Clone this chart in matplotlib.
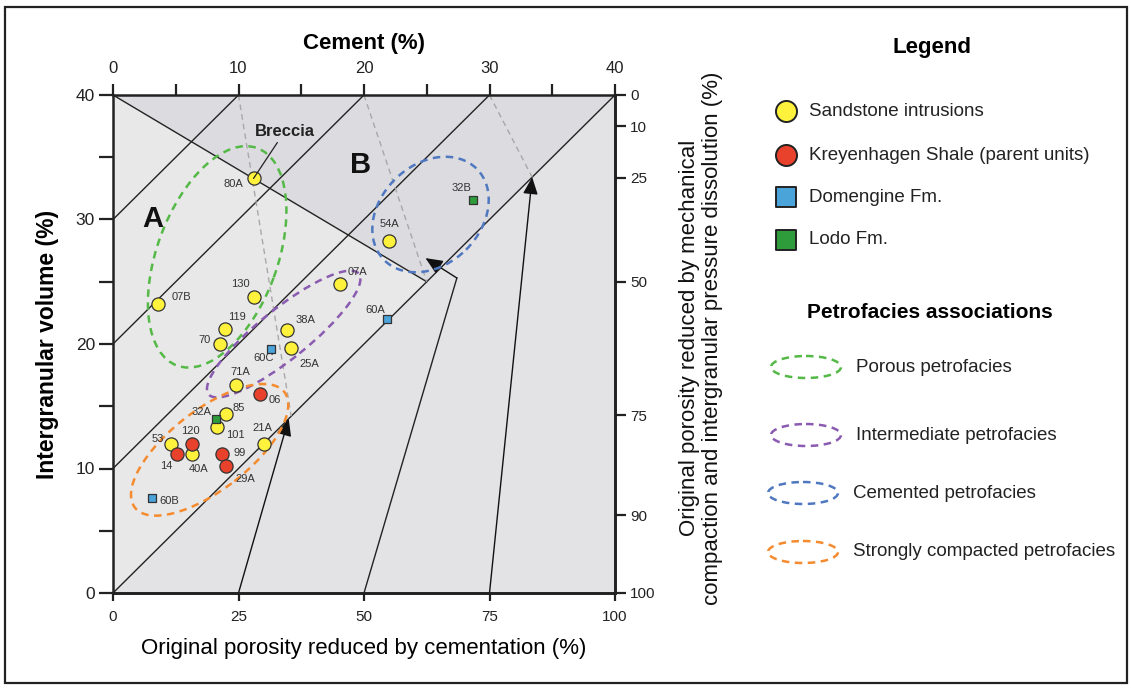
import numpy as np
import matplotlib
matplotlib.use('Agg')
import matplotlib.pyplot as plt
from matplotlib.patches import Ellipse, Polygon, Rectangle

plt.rcParams['font.family'] = ['Liberation Sans', 'DejaVu Sans']

# ---- sample data (cement %, intergranular volume %) ----
sand_names = ['80A', '54A', '07A', '130', '07B', '119', '38A', '70', '25A',
              '71A', '85', '101', '53', '40A', '21A']
sand_cement = [11.2, 22.0, 18.1, 11.2, 3.6, 8.9, 13.9, 8.5, 14.2, 9.8, 9.0, 8.3, 4.6, 6.3, 12.0]
sand_igv = [33.3, 28.3, 24.8, 23.8, 23.2, 21.2, 21.1, 20.0, 19.7, 16.7, 14.4, 13.3, 12.0, 11.2, 12.0]

shale_names = ['06', '120', '14', '99', '29A']
shale_cement = [11.7, 6.3, 5.1, 8.7, 9.0]
shale_igv = [16.0, 12.0, 11.2, 11.2, 10.2]

domengine_names = ['60A', '60C', '60B']
domengine_cement = [21.8, 12.6, 3.1]
domengine_igv = [22.0, 19.6, 7.6]

lodo_names = ['32A', '32B']
lodo_cement = [8.2, 28.7]
lodo_igv = [14.0, 31.6]

# petrofacies fields: centre cement, centre igv, width, height, angle
porous_field = (8.3, 27.0, 18.6, 9.6, 70)
intermediate_field = (13.6, 20.8, 15.4, 4.0, 39)
cemented_field = (25.3, 30.4, 10.4, 8.0, 45)
compacted_field = (7.7, 11.5, 15.1, 6.4, 38)

# reference grid of the diagram
orig_porosity = 40
porosity_lines = [30, 20, 10, 0]          # IGV - cement
arrow_start = [10, 20, 30]                # cement at IGV = 0
arrow_bend = [None, (27.4, 25.3), None]
arrow_tip = [(14.0, 14.0), (24.9, 26.9), (33.4, 33.4)]
dash_start = [10, 20, 30]                 # cement at IGV = 40
dash_end = [(14.2, 14.2), (25.0, 25.0), (33.4, 33.4)]

# label offsets in pixels (x right, y up)
label_off = {
    '80A': (-20, -6), '54A': (0, 17), '07A': (17, 12), '130': (-13, 13), '07B': (23, 7),
    '119': (12, 12), '38A': (18, 10), '70': (-15, 4), '25A': (18, -16), '71A': (4, 13),
    '85': (13, 6), '101': (18, -8), '53': (-13, 5), '40A': (6, -15), '21A': (-1, 16),
    '06': (15, -6), '120': (-2, 13), '14': (-11, -12), '99': (17, 1), '29A': (19, -13),
    '60A': (-11, 9), '60C': (-8, -9), '60B': (17, -3), '32A': (-14, 7), '32B': (-12, 12),
}


def igv_to_pct(igv):
    igv = np.asarray(igv, dtype=float)
    copl = orig_porosity - (100 - orig_porosity) * igv / (100 - igv)
    return copl / orig_porosity * 100


def pct_to_igv(pct):
    copl = np.asarray(pct, dtype=float) * orig_porosity / 100
    return 100 * (orig_porosity - copl) / (100 - copl)


W, H = 1131, 688
fig = plt.figure(figsize=(W / 100, H / 100), dpi=100)
fig.patch.set_facecolor('white')

# pixel-space layer for frame and legend
lax = fig.add_axes([0, 0, 1, 1], zorder=-1)
lax.set_xlim(0, W)
lax.set_ylim(H, 0)
lax.axis('off')
lax.add_patch(Rectangle((5, 7), 1122, 676, fill=False, lw=1.6, ec='#222222'))

ax = fig.add_axes([113 / W, 95 / H, 502 / W, 498 / H])
ax.set_xlim(0, 40)
ax.set_ylim(0, 40)
ax.patch.set_visible(False)

# compaction = cementation line (IGV = OP - (100 - OP)/100 * cement)
c_eq = np.array([0, 25])
igv_eq = orig_porosity - (100 - orig_porosity) / 100 * c_eq

# shaded fields
ax.add_patch(Polygon([(0, 0), (40, 0), (40, 40)], closed=True, fc='#e3e3e6', ec='none', zorder=0))
ax.add_patch(Polygon([(0, 0), (0, 40), (c_eq[1], igv_eq[1])], closed=True, fc='#e8e8e8',
                     ec='none', zorder=0))
ax.add_patch(Polygon([(0, 40), (40, 40), (c_eq[1], igv_eq[1])], closed=True, fc='#dcdce0',
                     ec='none', zorder=0))

# constant porosity lines
for p in porosity_lines:
    c = np.array([0, 40 - p])
    ax.plot(c, c + p, color='#222222', lw=1.0, zorder=1)

ax.plot(c_eq, igv_eq, color='#222222', lw=1.0, zorder=1)

# grey dashed lines
for c0, end in zip(dash_start, dash_end):
    ax.plot([c0, end[0]], [40, end[1]], color='#a8a8a8', lw=1.0,
            linestyle=(0, (4, 3)), zorder=1)

# arrows from the bottom axis
for c0, bend, tip in zip(arrow_start, arrow_bend, arrow_tip):
    start = (c0, 0)
    if bend is not None:
        ax.plot([c0, bend[0]], [0, bend[1]], color='#222222', lw=1.0, zorder=2)
        start = bend
    ax.annotate('', xy=tip, xytext=start,
                arrowprops=dict(arrowstyle='-|>,head_length=0.8,head_width=0.35',
                                color='#111111', lw=1.0, shrinkA=0, shrinkB=0,
                                mutation_scale=13), zorder=2)

# petrofacies fields
fields = [(porous_field, '#55b947'), (intermediate_field, '#8a5bb0'),
          (cemented_field, '#4f78c0'), (compacted_field, '#f58b2e')]
for (cx, cy, w, h, ang), col in fields:
    ax.add_patch(Ellipse((cx, cy), w, h, angle=ang, fill=False, ec=col, lw=1.8,
                         linestyle=(0, (3, 2.2)), zorder=3))

# samples
groups = [
    (sand_names, sand_cement, sand_igv, 'o', '#fff23c', 90),
    (shale_names, shale_cement, shale_igv, 'o', '#e8422d', 90),
    (domengine_names, domengine_cement, domengine_igv, 's', '#4aa3d9', 32),
    (lodo_names, lodo_cement, lodo_igv, 's', '#2f9c3c', 32),
]
for names, cem, igv, mk, col, sz in groups:
    ax.scatter(cem, igv, marker=mk, s=sz, c=col, edgecolors='#333333', linewidths=0.9, zorder=4)
    for n, x, y in zip(names, cem, igv):
        ax.annotate(n, (x, y), xytext=label_off[n], textcoords='offset pixels',
                    ha='center', va='center', fontsize=8, color='#333333', zorder=5)

ax.annotate('Breccia', xy=(sand_cement[0], sand_igv[0]), xytext=(13.7, 37.1),
            ha='center', va='center', fontsize=12, fontweight='bold', color='#222222',
            arrowprops=dict(arrowstyle='-', lw=0.9, color='#222222', shrinkA=1, shrinkB=0),
            zorder=5)
ax.text(3.2, 30.0, 'A', fontsize=21, fontweight='bold', ha='center', va='center', color='#111111')
ax.text(19.7, 34.4, 'B', fontsize=21, fontweight='bold', ha='center', va='center', color='#111111')

# axes: top = cement, left = IGV
for s in ax.spines.values():
    s.set_linewidth(1.8)
    s.set_color('#222222')
ax.set_xticks(np.arange(0, 41, 5))
ax.set_xticklabels([str(v) if v % 10 == 0 else '' for v in range(0, 41, 5)])
ax.set_yticks(np.arange(0, 41, 5))
ax.set_yticklabels([str(v) if v % 10 == 0 else '' for v in range(0, 41, 5)])
ax.tick_params(axis='x', top=True, labeltop=True, bottom=False, labelbottom=False,
               direction='out', length=8, width=1.6, labelsize=12, pad=6, colors='#222222')
ax.tick_params(axis='y', direction='out', length=10, width=1.6, labelsize=12.5, pad=3,
               colors='#222222')
ax.xaxis.set_label_position('top')
ax.set_xlabel('Cement (%)', fontsize=16, fontweight='bold', labelpad=8)
ax.set_ylabel('Intergranular volume (%)', fontsize=16.5, fontweight='bold', labelpad=12)

# bottom axis: porosity reduced by cementation
secx = ax.secondary_xaxis('bottom', functions=(lambda c: c * 2.5, lambda p: p / 2.5))
secx.set_xticks([0, 25, 50, 75, 100])
secx.tick_params(direction='out', length=6, width=1.6, labelsize=11, pad=6, colors='#222222')
secx.spines['bottom'].set_linewidth(1.8)
secx.set_xlabel('Original porosity reduced by cementation (%)', fontsize=16, labelpad=10)

# right axis: porosity reduced by compaction
secy = ax.secondary_yaxis('right', functions=(igv_to_pct, pct_to_igv))
secy.set_yticks([0, 10, 25, 50, 75, 90, 100])
secy.tick_params(direction='out', length=8, width=1.6, labelsize=11, pad=3, colors='#222222')
secy.spines['right'].set_linewidth(1.8)

fig.text(701 / W, 1 - 338 / H,
         'Original porosity reduced by mechanical\ncompaction and intergranular pressure dissolution (%)',
         rotation=90, ha='center', va='center', multialignment='center',
         fontsize=16, linespacing=1.15, color='#111111')

# ---- legend ----
lax.text(932, 47, 'Legend', fontsize=16, fontweight='bold', ha='center', va='center')
leg_items = [('Sandstone intrusions', 'o', '#fff23c'),
             ('Kreyenhagen Shale (parent units)', 'o', '#e8422d'),
             ('Domengine Fm.', 's', '#4aa3d9'),
             ('Lodo Fm.', 's', '#2f9c3c')]
for (txt, mk, col), y in zip(leg_items, [111, 155, 197, 240]):
    lax.scatter([786], [y], marker=mk, s=230 if mk == 'o' else 190, c=col,
                edgecolors='#222222', linewidths=1.4)
    lax.text(809, y, txt, fontsize=13.5, ha='left', va='center', color='#222222')

lax.text(930, 313, 'Petrofacies associations', fontsize=15, fontweight='bold',
         ha='center', va='center')
field_names = ['Porous petrofacies', 'Intermediate petrofacies',
               'Cemented petrofacies', 'Strongly compacted petrofacies']
for ((_, col), name, y, x) in zip(fields, field_names, [367, 435, 493, 552], [806, 806, 803, 803]):
    lax.add_patch(Ellipse((x, y), 70, 22, fill=False, ec=col, lw=1.8, linestyle=(0, (3, 2.2))))
    lax.text(x + 50, y, name, fontsize=13.5, ha='left', va='center', color='#222222')

fig.savefig('out.png', dpi=100)
